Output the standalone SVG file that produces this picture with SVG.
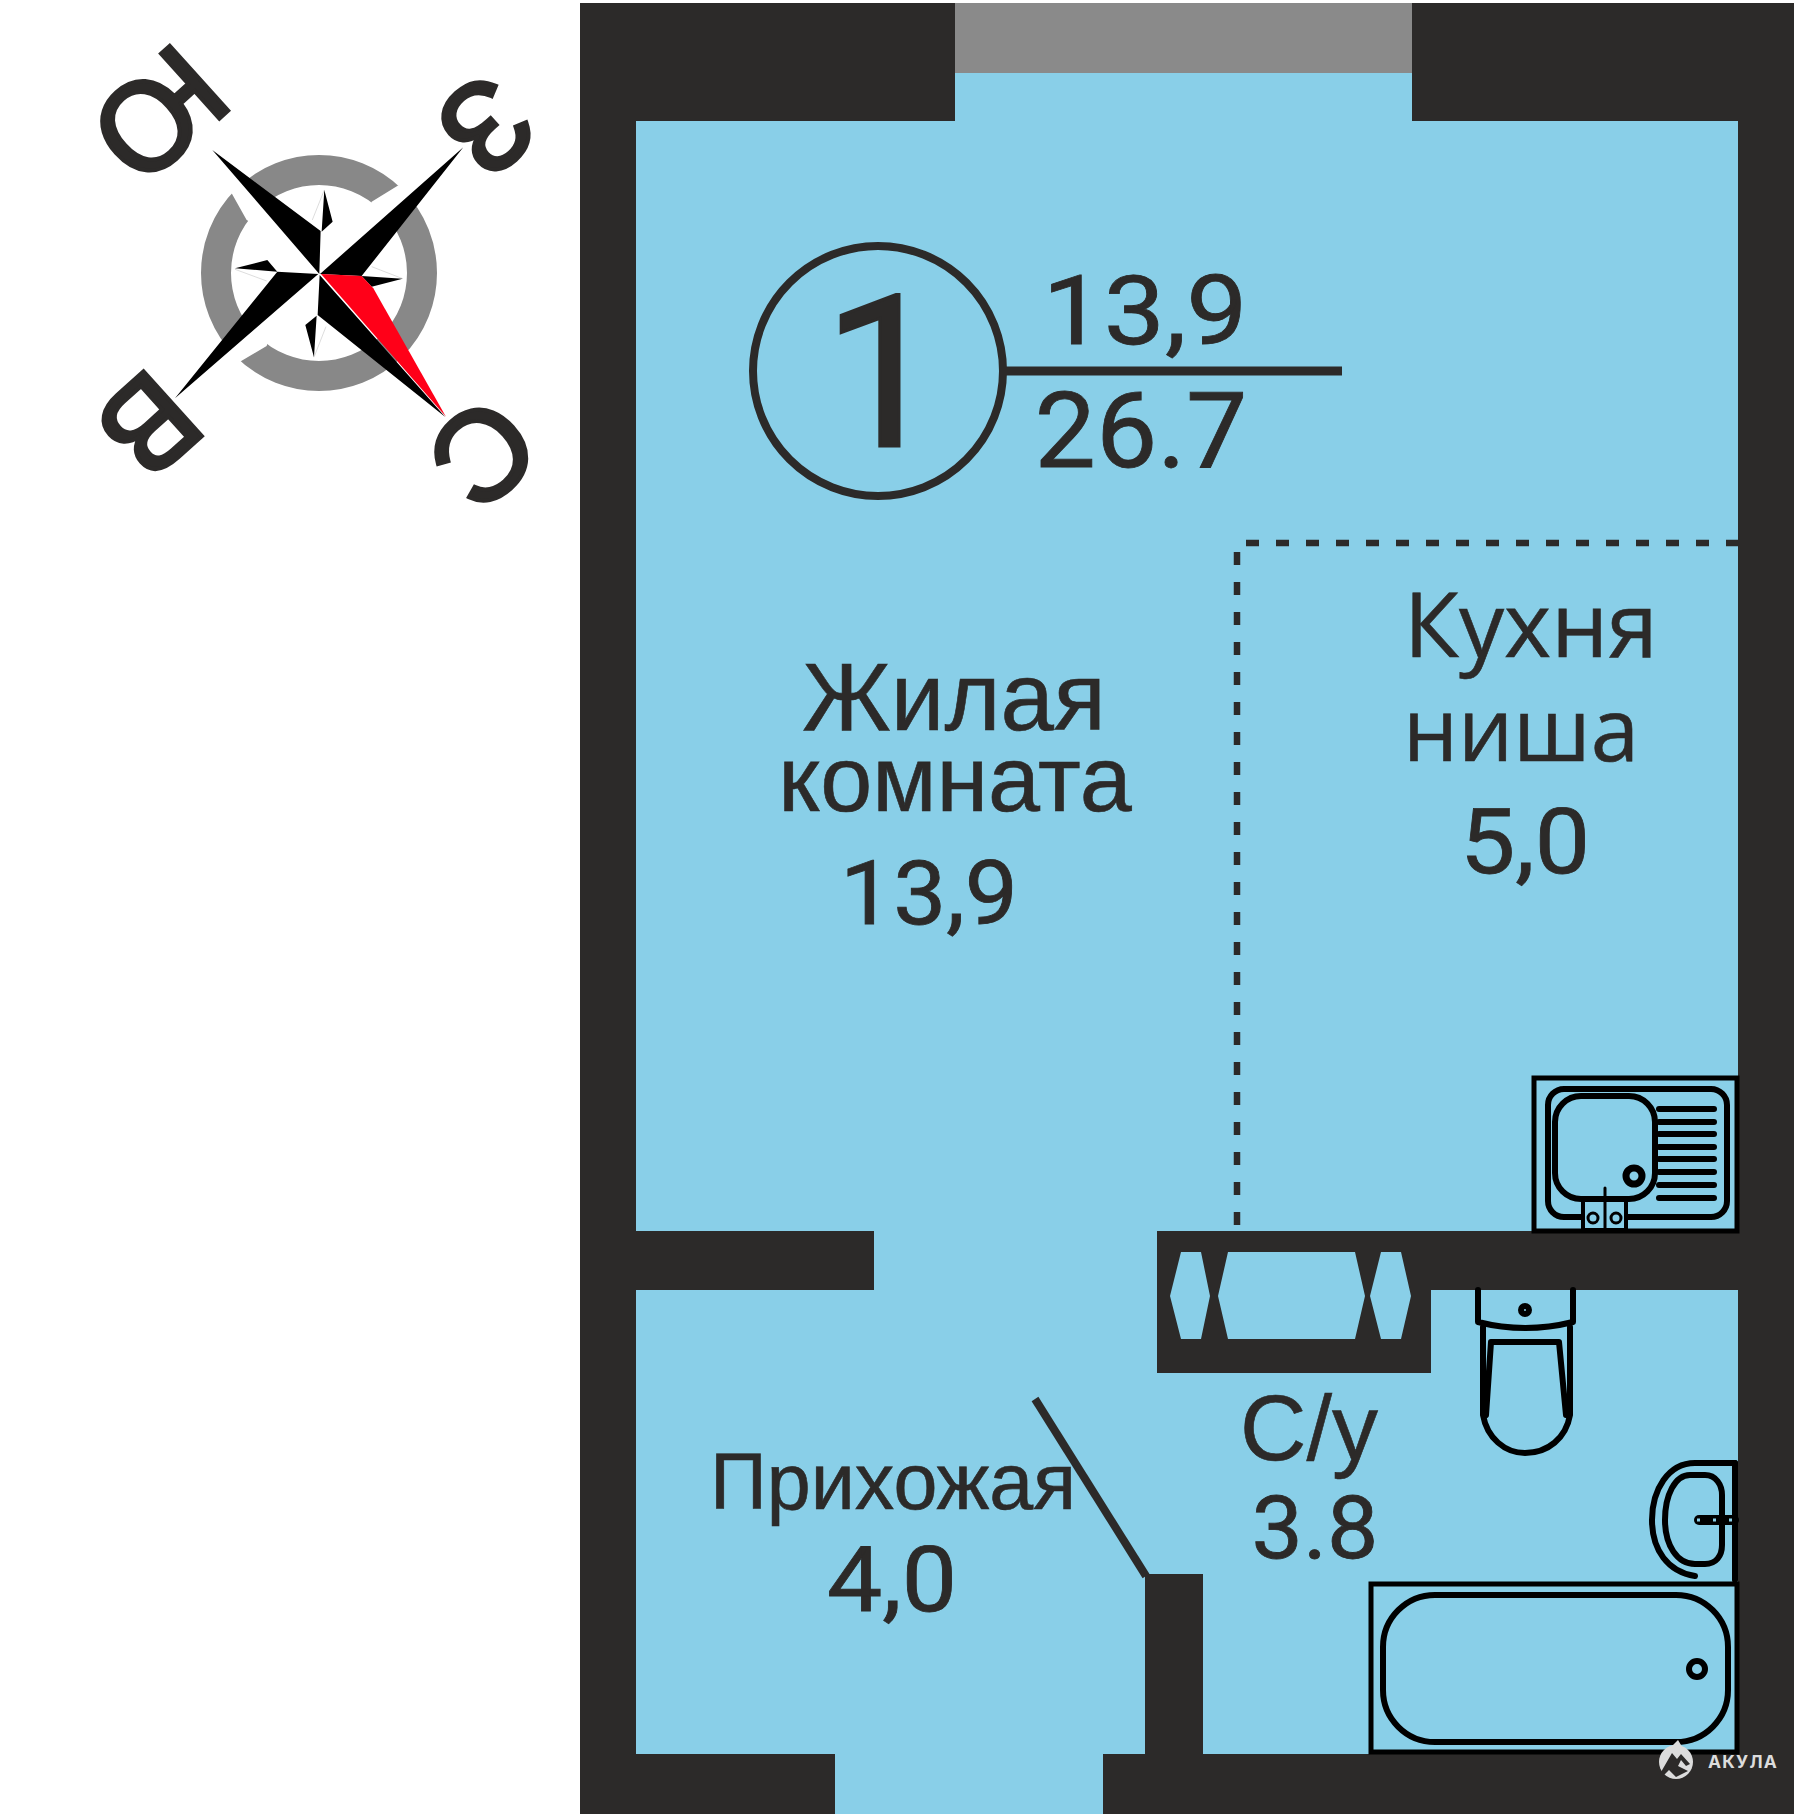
<svg xmlns="http://www.w3.org/2000/svg" width="1816" height="1817" viewBox="0 0 1816 1817">
<style>
.w{fill:#2c2a29}
.l{fill:none;stroke:#000;stroke-width:6;stroke-linejoin:round;stroke-linecap:round}
.b{stroke-width:5;stroke-linejoin:miter}
.t{font-family:"Liberation Sans",Arial,sans-serif;fill:#2c2a29;stroke:#2c2a29;stroke-width:.6;text-anchor:middle}
.n{font-family:Roboto,"Liberation Sans",sans-serif;fill:#2c2a29;stroke:#2c2a29;stroke-width:.8;text-anchor:middle}
.o{font-family:"Open Sans","Liberation Sans",sans-serif;fill:#2c2a29;stroke:#2c2a29;stroke-width:.6;text-anchor:middle}
.k{fill:#000}
.g{fill:none;stroke:#999;stroke-width:1}
.c{font-family:"Liberation Sans",Arial,sans-serif;font-size:127px;fill:#2c2a29;stroke:#2c2a29;stroke-width:4;text-anchor:middle}
</style>
<rect width="1816" height="1817" fill="#fff"/>
<g id="plan">
<rect x="580" y="3" width="1214" height="1811" class="w"/>
<rect x="636" y="121" width="1102" height="1633" fill="#89cfe8"/>
<rect x="955" y="3" width="457" height="118" fill="#89cfe8"/>
<rect x="955" y="3" width="457" height="70" fill="#8a8a8a"/>
<rect x="835" y="1754" width="268" height="60" fill="#89cfe8"/>
<rect x="636" y="1231" width="238" height="59" class="w"/>
<path class="w" d="M1157 1231H1738V1290H1431V1373H1157Z"/>
<path fill="#89cfe8" d="M1170 1296L1181 1252H1201L1210 1296L1201 1339H1181ZM1218 1296L1228 1252H1355L1365 1296L1355 1339H1228ZM1370 1296L1381 1252H1401L1411 1296L1401 1339H1381Z"/>
<rect x="1145" y="1574" width="58" height="180" class="w"/>
</g>
<g id="connectors">
<path id="door" d="M1035 1399L1146 1576" fill="none" stroke="#2c2a29" stroke-width="8"/>
<path id="kitchen-boundary-h" d="M1246 543H1738" fill="none" stroke="#2c2a29" stroke-width="6.5" stroke-dasharray="13 17"/>
<path id="kitchen-boundary-v" d="M1237 552V1231" fill="none" stroke="#2c2a29" stroke-width="6.5" stroke-dasharray="13 17"/>
</g>
<g id="apartment-badge">
<circle cx="878" cy="371" r="125" fill="none" stroke="#2c2a29" stroke-width="8"/>
<path d="M1006 371H1342" stroke="#2c2a29" stroke-width="9"/>
<text class="n" x="883" y="446" font-size="212" style="stroke-width:3">1</text>
<text class="n" x="1145" y="344" font-size="96" textLength="205" lengthAdjust="spacingAndGlyphs">13,9</text>
<text class="n" x="1141" y="467" font-size="105" textLength="213" lengthAdjust="spacingAndGlyphs">26.7</text>
</g>
<g id="room-living">
<text class="t" x="954" y="730" font-size="96">Жилая</text>
<text class="t" x="955" y="811" font-size="93.5">комната</text>
<text class="n" x="929" y="924" font-size="89" textLength="178" lengthAdjust="spacingAndGlyphs">13,9</text>
</g>
<g id="room-kitchen">
<text class="o" x="1531" y="657" font-size="90">Кухня</text>
<text class="o" x="1521" y="761" font-size="87">ниша</text>
<text class="n" x="1525" y="873" font-size="90" textLength="130" lengthAdjust="spacingAndGlyphs">5,0</text>
</g>
<g id="room-hall">
<text class="t" x="893" y="1509" font-size="79">Прихожая</text>
<text class="n" x="892" y="1611" font-size="90" textLength="130" lengthAdjust="spacingAndGlyphs">4,0</text>
</g>
<g id="room-bath">
<text class="t" x="1309" y="1460" font-size="92">С/у</text>
<text class="n" x="1315" y="1558" font-size="88" textLength="127" lengthAdjust="spacingAndGlyphs">3.8</text>
</g>
<g id="sink">
<rect x="1534" y="1078" width="203" height="153" class="l b"/>
<rect x="1548" y="1089" width="179" height="128" rx="16" class="l"/>
<rect x="1555" y="1096" width="100" height="103" rx="26" class="l" style="fill:#89cfe8"/>
<circle cx="1634" cy="1176" r="8" class="l" style="stroke-width:7"/>
<path class="l" d="M1659 1109H1714M1659 1122H1714M1659 1134H1714M1659 1147H1714M1659 1159H1714M1659 1172H1714M1659 1185H1714M1659 1198H1714"/>
<path class="l" style="stroke-width:4;fill:#89cfe8" d="M1583 1200V1230H1626V1200Z"/>
<path class="l" style="stroke-width:3" d="M1605 1188V1228"/>
<circle cx="1593" cy="1218" r="5" class="l" style="stroke-width:3"/>
<circle cx="1616" cy="1218" r="5" class="l" style="stroke-width:3"/>
</g>
<g id="toilet">
<path class="l" d="M1478 1290V1322Q1525 1334 1573 1322V1290"/>
<path class="l" d="M1483 1327V1415C1487 1438 1505 1453 1525 1453C1548 1453 1566 1438 1570 1415V1327"/>
<path class="l" d="M1491 1342H1559L1566 1415M1491 1342L1486 1415"/>
<circle cx="1525" cy="1310" r="4" class="l" style="stroke-width:6"/>
</g>
<g id="washbasin">
<path class="l" d="M1735 1463H1695C1668 1463 1652 1490 1652 1520C1652 1550 1668 1572 1695 1576"/>
<path class="l" d="M1735 1463V1580"/>
<path class="l" d="M1690 1475H1705C1716 1475 1722 1485 1722 1495V1545C1722 1556 1716 1564 1705 1564H1695C1677 1564 1665 1545 1665 1520C1665 1495 1675 1475 1690 1475Z"/>
<path class="l" style="stroke-width:10" d="M1699 1520H1734"/>
<path stroke="#89cfe8" stroke-width="3" stroke-dasharray="3 13" d="M1697 1520H1734" fill="none"/>
</g>
<g id="bathtub">
<rect x="1371" y="1584" width="366" height="168" class="l b"/>
<rect x="1383" y="1595" width="345" height="147" rx="52" class="l"/>
<circle cx="1697" cy="1669" r="8" class="l" style="stroke-width:6"/>
</g>
<g id="compass">
<circle cx="319" cy="273" r="103" fill="none" stroke="#888" stroke-width="30"/>
<g transform="translate(60 20) scale(.3333)">
<path fill="#fff" d="M935 545L1013 497L1110 470L1000 575L900 650ZM620 978L540 1025L450 1045L560 945L650 880ZM515 520L560 600L650 650L575 500L490 400Z"/>
<path class="g" d="M793 510L757 600M1028 776L935 740M762 1012L798 920M525 748L620 783"/>
<path class="k" d="M457 390L782 633L778 762ZM793 510L818 605L785 635ZM1210 382L905 768L780 762ZM1028 776L905 768L935 800ZM1156 1191L779 765L773 885ZM762 1012L736 915L770 887ZM345 1135L652 755L775 762ZM525 745L622 720L652 755Z"/>
<path fill="#ff0018" d="M783 762L905 768L940 805L1158 1190Z"/>
</g>
<text class="c" transform="translate(160 115) rotate(138)" y="45">Ю</text>
<text class="c" transform="translate(487 127) rotate(138)" y="45">З</text>
<text class="c" transform="translate(150 426) rotate(138)" y="45">В</text>
<text class="c" transform="translate(484 454) rotate(138)" y="45">С</text>
</g>
<g id="logo">
<circle cx="1676" cy="1762" r="17" fill="#dcdcdc"/>
<path fill="#dcdcdc" d="M1668 1750L1678 1740L1684 1750Z"/>
<path fill="#2c2a29" d="M1661 1772L1672 1753L1677 1759L1681 1754L1690 1764L1686 1766L1681 1760L1678 1766L1688 1771L1676 1777L1669 1770L1663 1776Z"/>
<text x="1708" y="1768" font-family="Inter,'Liberation Sans',sans-serif" font-weight="700" font-size="17.5" letter-spacing="1.2" fill="#dcdcdc">АКУЛА</text>
</g>
</svg>
